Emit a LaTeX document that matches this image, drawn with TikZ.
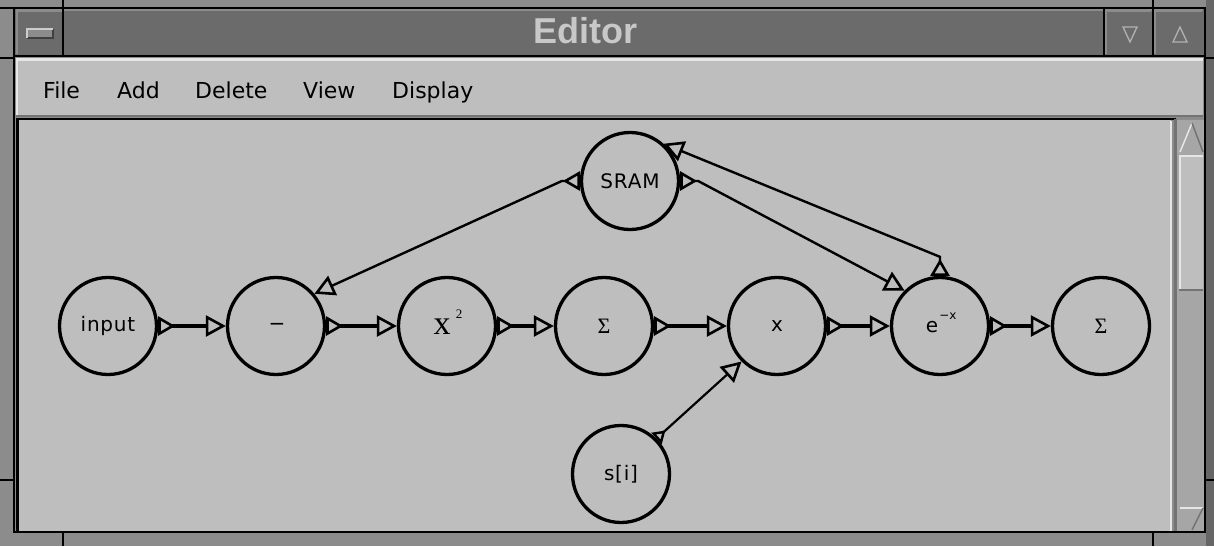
\documentclass[tikz,border=0pt]{standalone}
\usepackage{fontspec}
\setmainfont{DejaVu Sans}
\newfontfamily\lblfont[LetterSpace=4]{DejaVu Sans}
\newfontfamily\serfont{Liberation Serif}
\newfontfamily\ttlfont{Liberation Sans}
\usetikzlibrary{arrows.meta}

\definecolor{panel}{HTML}{BEBEBE}
\definecolor{frame}{HTML}{8C8C8C}
\definecolor{shade}{HTML}{4A4A4A}
\definecolor{hilite}{HTML}{E6E6E6}
\definecolor{titlebar}{HTML}{6B6B6B}
\definecolor{titletext}{HTML}{C8C8C8}
\definecolor{trough}{HTML}{A6A6A6}

\tikzset{
  blk/.style={circle, draw=black, line width=3.3pt, minimum size=97pt, inner sep=0pt,
    font=\lblfont\fontsize{20}{20}\selectfont},
  link/.style={line width=#1,
    {Triangle[open,reversed,length=17pt,width=19pt,line width=2.6pt]}-{Triangle[open,length=20pt,width=21pt,line width=2.6pt]}},
  link/.default=3.2pt,
  smalltail/.style={line width=2.2pt,
    {Triangle[open,reversed,length=12pt,width=15pt,line width=2.4pt]}-{Triangle[open,length=20pt,width=21pt,line width=2.6pt]}},
  menuitem/.style={anchor=base west, inner sep=0pt, font=\fontsize{22}{22}\selectfont},
  bevel/.style={line width=2.5pt},
}

\begin{document}
\begin{tikzpicture}[x=1pt,y=-1pt]
\useasboundingbox (0,0) rectangle (1214,546);

% window frame
\fill[frame] (0,0) rectangle (1214,546);
\draw[shade, line width=2pt] (0,8) -- (1214,8);
\draw[shade, line width=2pt] (14,8) -- (14,533);
\draw[shade, line width=2pt] (1205,8) -- (1205,533);
\draw[shade, line width=2pt] (14,532) -- (1205,532);
\fill[black!60] (1206,0) rectangle (1214,546);
% resize handle notches
\foreach \nx in {63,1153} {
  \draw[shade, line width=1.5pt] (\nx,0) -- (\nx,8);
  \draw[shade, line width=1.5pt] (\nx,533) -- (\nx,546);
}
\foreach \ny in {58,480} {
  \draw[shade, line width=1.5pt] (0,\ny) -- (14,\ny);
  \draw[shade, line width=1.5pt] (1205,\ny) -- (1214,\ny);
}

% title bar
\fill[titlebar] (15,9) rectangle (1204,56);
\draw[black!45, bevel] (16,10) -- (1203,10);
\draw[shade, bevel] (15,56) -- (1204,56);
% left button
\draw[black!45, bevel] (17,54) -- (17,11) -- (62,11);
\draw[shade, bevel] (63,9) -- (63,56);
\fill[black!45] (27,29) rectangle (53,38);
\draw[black!75, line width=1.2pt] (27,38) -- (53,38) -- (53,29);
\draw[black!20, line width=1.2pt] (27,38) -- (27,29) -- (53,29);
% right buttons
\draw[shade, bevel] (1104,9) -- (1104,56);
\draw[black!45, bevel] (1106,54) -- (1106,11) -- (1151,11);
\draw[shade, bevel] (1153,9) -- (1153,56);
\draw[black!45, bevel] (1155,54) -- (1155,11) -- (1202,11);
\draw[black!30, line width=1.3pt] (1123,27) -- (1137,27) -- (1130,42) -- cycle;
\draw[black!30, line width=1.3pt] (1173,42) -- (1187,42) -- (1180,27) -- cycle;
\node[anchor=base, inner sep=0pt, text=titletext,
      font=\ttlfont\bfseries\fontsize{36}{36}\selectfont] (ttl) at (585,43) {Editor};

% menu bar
\fill[panel] (16,58) rectangle (1203,117);
\draw[hilite, bevel] (16,59.5) -- (1203,59.5);
\draw[hilite, bevel] (17,59) -- (17,116);
\draw[black!55, bevel] (16,116) -- (1203,116);
\node[menuitem] (mfile) at (43,98) {File};
\node[menuitem] (madd) at (117,98) {Add};
\node[menuitem] (mdel) at (195,98) {Delete};
\node[menuitem] (mview) at (303,98) {View};
\node[menuitem] (mdisp) at (392,98) {Display};

% canvas
\fill[panel] (16,118) rectangle (1171,531);
\draw[shade, line width=3pt] (17,118) -- (17,531);
\draw[shade, line width=2pt] (16,119) -- (1176,119);
\draw[hilite, line width=2.5pt] (1171,121) -- (1171,531);
\draw[black!55, line width=3pt] (1175,119) -- (1175,531);

% scroll bar
\fill[trough] (1177,120) rectangle (1204,531);
\fill[trough] (1180,152) -- (1192,123) -- (1203,152) -- cycle;
\draw[hilite, line width=1.5pt] (1180,152) -- (1192,123);
\draw[black!55, line width=1.5pt] (1192,123) -- (1203,152);
\fill[panel] (1179,155) rectangle (1203,290);
\draw[hilite, line width=2pt] (1180,290) -- (1180,156) -- (1203,156);
\draw[black!55, line width=2.5pt] (1179,290) -- (1203,290);
\fill[trough] (1180,508) -- (1203,508) -- (1192,530) -- cycle;
\draw[hilite, line width=2pt] (1180,508) -- (1203,508);
\draw[black!55, line width=1.5pt] (1203,508) -- (1192,530);

% blocks
\node[blk] (input) at (108,326) {input};
\node[blk] (minus) at (276,326) {};
\node[inner sep=0pt, font=\fontsize{20}{20}\selectfont] (minusl) at (277,327) {−};
\node[blk] (sq) at (447,326) {};
\node[inner sep=0pt, font=\serfont\fontsize{34}{34}\selectfont] (sqx) at (442,327) {x};
\node[inner sep=0pt, font=\serfont\fontsize{13}{13}\selectfont] (sqp) at (459,314) {2};
\node[blk, font=\serfont\fontsize{22}{22}\selectfont] (sum1) at (604,326) {Σ};
\node[blk] (times) at (777,326) {x};
\node[blk] (ex) at (940,326) {};
\node[inner sep=0pt, font=\lblfont\fontsize{20}{20}\selectfont] (exe) at (932,327) {e};
\node[inner sep=0pt, font=\fontsize{12}{12}\selectfont] (exp) at (948,316) {−x};
\node[blk, font=\serfont\fontsize{22}{22}\selectfont] (sum2) at (1101,326) {Σ};
\node[blk] (sram) at (630,181) {SRAM};
\node[blk] (si) at (621,474) {s[i]};

% data flow
\draw[link] (input) -- (minus);
\draw[link] (minus) -- (sq);
\draw[link] (sq) -- (sum1);
\draw[link] (sum1) -- (times);
\draw[link] (times) -- (ex);
\draw[link] (ex) -- (sum2);
\draw[link=2.4pt] (sram.west) -- ++(-18,0) -- (minus.40);
\draw[link=2.4pt] (sram.east) -- ++(18,0) -- (ex.135);
\draw[link=2.4pt] (ex.north) -- ++(0,-19) -- (sram.48);
\draw[smalltail] (si.45) -- (times.225);
\end{tikzpicture}
\end{document}
